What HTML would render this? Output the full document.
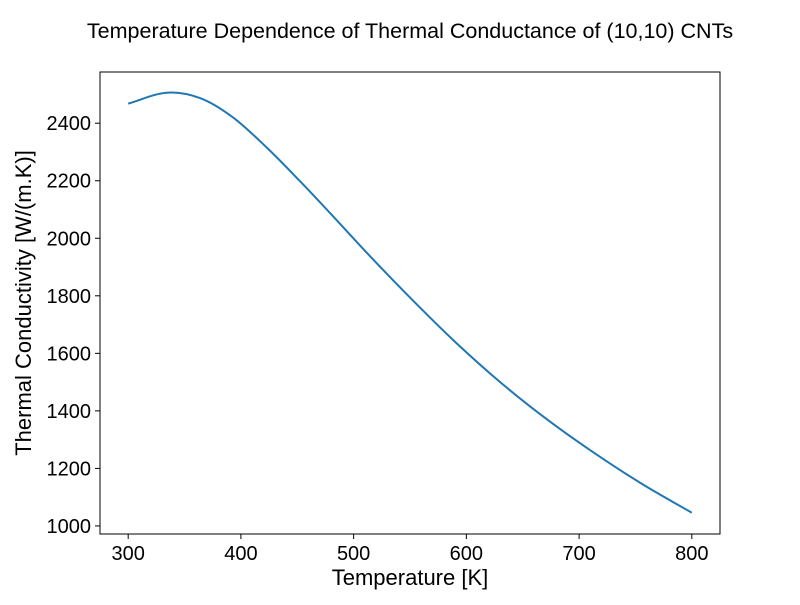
<!DOCTYPE html>
<html><head><meta charset="utf-8"><style>
body{margin:0;background:#fff}
svg text{font-family:"Liberation Sans",Arial,sans-serif;fill:#000}
</style></head><body>
<svg id="chart" width="800" height="600" xmlns="http://www.w3.org/2000/svg">
<rect width="800" height="600" fill="#fff"/>
<text x="410" y="38" font-size="21.5" text-anchor="middle">Temperature Dependence of Thermal Conductance of (10,10) CNTs</text>
<g id="ticks"></g>
<path id="line" fill="none" stroke="#1f77b4" stroke-width="2"/>
<rect x="100" y="72" width="620" height="462" fill="none" stroke="#000" stroke-width="1"/>
<text x="410" y="585" font-size="22" text-anchor="middle">Temperature [K]</text>
<text transform="translate(31,303) rotate(-90)" font-size="22" text-anchor="middle">Thermal Conductivity [W/(m.K)]</text>
</svg>
<script>
const temps=[300,334,364,393,423,452,479,514,551,590,630,670,710,755,800];
const conductivity=[2468,2506,2487,2420,2315,2200,2088,1940,1790,1640,1500,1375,1263,1148,1046];
const xTicks=[300,400,500,600,700,800];
const yTicks=[1000,1200,1400,1600,1800,2000,2200,2400];
const L=100,R=720,T=72,B=534;
const xmin=275,xmax=825,ymin=972,ymax=2578;
const sx=v=>L+(v-xmin)/(xmax-xmin)*(R-L);
const sy=v=>B-(v-ymin)/(ymax-ymin)*(B-T);
const ns="http://www.w3.org/2000/svg";
const g=document.getElementById('ticks');
function mk(tag,attrs){const e=document.createElementNS(ns,tag);for(const k in attrs)e.setAttribute(k,attrs[k]);g.appendChild(e);return e;}
xTicks.forEach(v=>{
 const l=mk('line',{x1:sx(v),x2:sx(v),y1:B,y2:B+5,stroke:'#000'});
 
 
 const t=mk('text',{x:sx(v),y:B+26,'font-size':20,'text-anchor':'middle'});
 t.textContent=v;
 
 
});
yTicks.forEach(v=>{
 const l=mk('line',{x1:L-5,x2:L,y1:sy(v),y2:sy(v),stroke:'#000'});
 
 
 const t=mk('text',{x:L-9,y:sy(v)+7,'font-size':20,'text-anchor':'end'});
 t.textContent=v;
 
 
});
const pts=temps.map((t,i)=>[sx(t),sy(conductivity[i])]);
let d='M'+pts[0][0]+','+pts[0][1];
for(let i=0;i<pts.length-1;i++){
 const p0=pts[i-1]||pts[i],p1=pts[i],p2=pts[i+1],p3=pts[i+2]||p2;
 const h=p2[0]-p1[0];
 const m1=(p2[1]-p0[1])/(p2[0]-p0[0]);
 const m2=(p3[1]-p1[1])/(p3[0]-p1[0]);
 d+=' C'+(p1[0]+h/3)+','+(p1[1]+m1*h/3)+' '+(p2[0]-h/3)+','+(p2[1]-m2*h/3)+' '+p2[0]+','+p2[1];
}
document.getElementById('line').setAttribute('d',d);
</script>
</body></html>
